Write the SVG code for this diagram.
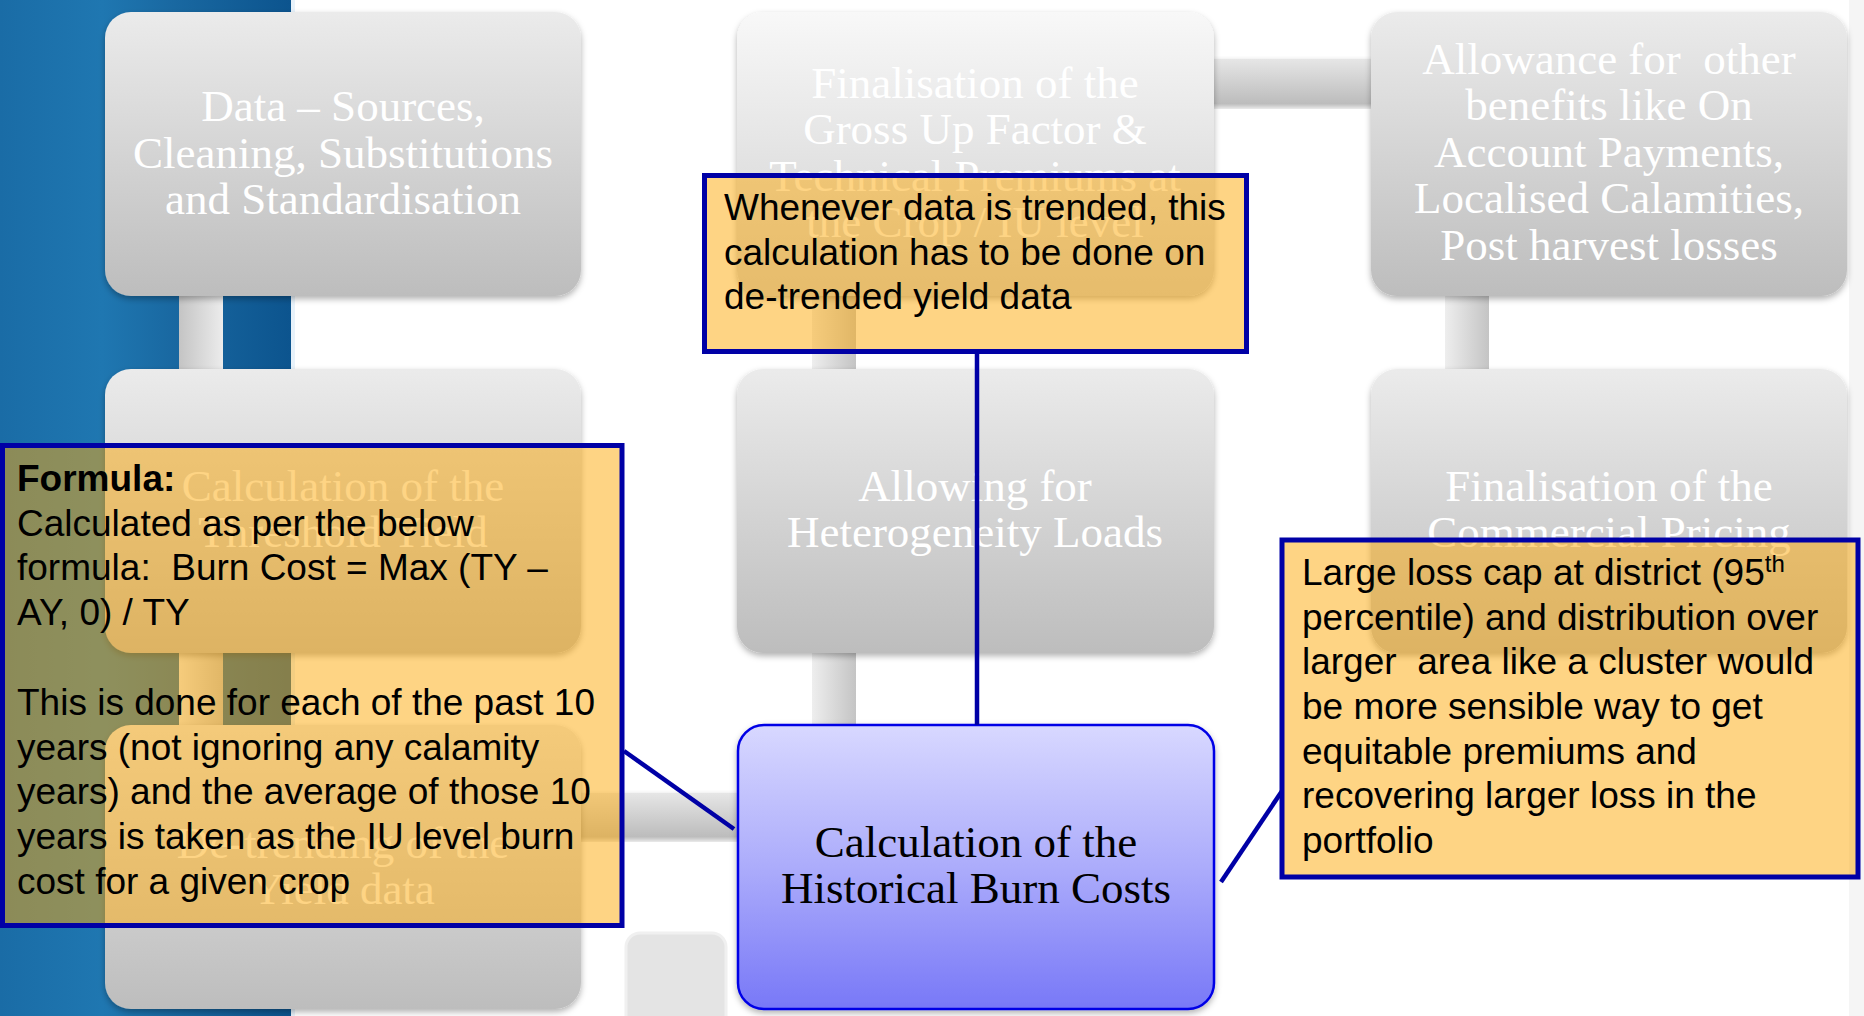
<svg xmlns="http://www.w3.org/2000/svg" width="1864" height="1016" viewBox="0 0 1864 1016">
  <defs>
    <linearGradient id="bg" x1="0" y1="0" x2="1" y2="0">
      <stop offset="0" stop-color="#1a6ca6"/>
      <stop offset="0.35" stop-color="#1f77b1"/>
      <stop offset="0.6" stop-color="#1968a1"/>
      <stop offset="1" stop-color="#0c548e"/>
    </linearGradient>
    <linearGradient id="boxFill" x1="0" y1="0" x2="0" y2="1">
      <stop offset="0" stop-color="#ebebeb"/>
      <stop offset="1" stop-color="#bdbdbd"/>
    </linearGradient>
    <linearGradient id="boxFillLight" x1="0" y1="0" x2="0" y2="1">
      <stop offset="0" stop-color="#f8f8f8"/>
      <stop offset="1" stop-color="#cfcfcf"/>
    </linearGradient>
    <linearGradient id="activeFill" x1="0" y1="0" x2="0" y2="1">
      <stop offset="0" stop-color="#d8d8ff"/>
      <stop offset="0.5" stop-color="#acacfb"/>
      <stop offset="1" stop-color="#7878f7"/>
    </linearGradient>
    <linearGradient id="barV" x1="0" y1="0" x2="1" y2="0">
      <stop offset="0" stop-color="#eeeeee"/>
      <stop offset="1" stop-color="#c4c4c4"/>
    </linearGradient>
    <linearGradient id="barVrev" x1="0" y1="0" x2="1" y2="0">
      <stop offset="0" stop-color="#c4c4c4"/>
      <stop offset="1" stop-color="#ececec"/>
    </linearGradient>
    <linearGradient id="barH" x1="0" y1="0" x2="0" y2="1">
      <stop offset="0" stop-color="#e6e6e6"/>
      <stop offset="1" stop-color="#bcbcbc"/>
    </linearGradient>
    <filter id="shadow" x="-5%" y="-5%" width="110%" height="115%">
      <feDropShadow dx="0" dy="3" stdDeviation="3" flood-color="#000" flood-opacity="0.3"/>
    </filter>
  </defs>
  <style>
    .box { fill: url(#boxFill); filter: url(#shadow); }
    .box-light { fill: url(#boxFillLight); filter: url(#shadow); }
    .active { fill: url(#activeFill); stroke: #0000e6; stroke-width: 2.5; filter: url(#shadow); }
    .label { font-family: "Liberation Serif", "Times New Roman", serif; font-size: 45px; fill: #ffffff; text-anchor: middle; }
    .label-dark { font-family: "Liberation Serif", "Times New Roman", serif; font-size: 45px; fill: #000000; text-anchor: middle; }
    .note { fill: rgb(253,170,9); fill-opacity: 0.5; stroke: #0000a6; stroke-width: 5; }
    .note-text { font-family: "Liberation Sans", Arial, sans-serif; font-size: 37px; fill: #000000; }
    .lead { stroke: #0000a6; stroke-width: 4.5; fill: none; }
  </style>

  <!-- page backdrop -->
  <rect x="0" y="0" width="1864" height="1016" fill="#ffffff"/>
  <rect x="0" y="0" width="291" height="1016" fill="url(#bg)"/>
  <rect x="291" y="0" width="4" height="1016" fill="#e8f2fa"/>
  <rect x="1849" y="0" width="15" height="1016" fill="#f5f5f5"/>

  <!-- process bars linking the steps -->
  <g id="connectors">
    <rect x="179" y="290" width="44" height="85" fill="url(#barVrev)"/>
    <rect x="179" y="650" width="44" height="80" fill="url(#barV)"/>
    <rect x="575" y="793" width="167" height="44" fill="url(#barH)" filter="url(#shadow)"/>
    <rect x="812" y="650" width="44" height="80" fill="url(#barV)"/>
    <rect x="812" y="290" width="44" height="85" fill="url(#barV)"/>
    <rect x="1210" y="59" width="166" height="45" fill="url(#barH)" filter="url(#shadow)"/>
    <rect x="1445" y="290" width="44" height="85" fill="url(#barV)"/>
  </g>

  <!-- step boxes -->
  <g id="node-data">
    <rect class="box" x="105" y="12" width="476" height="284" rx="26"/>
    <text class="label" x="343" y="121">Data – Sources,</text>
    <text class="label" x="343" y="168">Cleaning, Substitutions</text>
    <text class="label" x="343" y="214">and Standardisation</text>
  </g>
  <g id="node-grossup">
    <rect class="box-light" x="737" y="12" width="477" height="284" rx="26"/>
    <text class="label" x="975" y="98">Finalisation of the</text>
    <text class="label" x="975" y="144">Gross Up Factor &amp;</text>
    <text class="label" x="975" y="191">Technical Premiums at</text>
    <text class="label" x="975" y="237">the Crop / IU level</text>
  </g>
  <g id="node-allowance">
    <rect class="box" x="1371" y="12" width="476" height="284" rx="26"/>
    <text class="label" x="1609" y="74" xml:space="preserve">Allowance for  other</text>
    <text class="label" x="1609" y="120">benefits like On</text>
    <text class="label" x="1609" y="167">Account Payments,</text>
    <text class="label" x="1609" y="213">Localised Calamities,</text>
    <text class="label" x="1609" y="260">Post harvest losses</text>
  </g>
  <g id="node-threshold">
    <rect class="box" x="105" y="369" width="476" height="284" rx="26"/>
    <text class="label" x="343" y="501">Calculation of the</text>
    <text class="label" x="343" y="547">Threshold Yield</text>
  </g>
  <g id="node-heterogeneity">
    <rect class="box" x="737" y="369" width="477" height="284" rx="26"/>
    <text class="label" x="975" y="501">Allowing for</text>
    <text class="label" x="975" y="547">Heterogeneity Loads</text>
  </g>
  <g id="node-commercial">
    <rect class="box" x="1371" y="369" width="476" height="284" rx="26"/>
    <text class="label" x="1609" y="501">Finalisation of the</text>
    <text class="label" x="1609" y="547">Commercial Pricing</text>
  </g>
  <g id="node-detrending">
    <rect class="box" x="105" y="725" width="476" height="284" rx="26"/>
    <text class="label" x="343" y="858">De-trending of the</text>
    <text class="label" x="343" y="904">Yield data</text>
  </g>
  <g id="node-burncost">
    <rect class="active" x="738" y="725" width="476" height="284" rx="26"/>
    <text class="label-dark" x="976" y="857">Calculation of the</text>
    <text class="label-dark" x="976" y="903">Historical Burn Costs</text>
  </g>
  <g id="node-stub">
    <rect x="626" y="933" width="100" height="100" rx="14" fill="#e4e4e4" stroke="#f0f0f0" stroke-width="3"/>
  </g>

  <!-- annotation leaders -->
  <g id="annotation-leaders">
    <line class="lead" x1="977" y1="352" x2="977" y2="725"/>
    <line class="lead" x1="624" y1="751" x2="734" y2="829"/>
    <line class="lead" x1="1282" y1="791" x2="1221" y2="882"/>
  </g>

  <!-- annotations -->
  <g id="note-detrended">
    <rect class="note" x="704.5" y="175.5" width="542" height="176"/>
    <text class="note-text" x="724" y="220">Whenever data is trended, this</text>
    <text class="note-text" x="724" y="265">calculation has to be done on</text>
    <text class="note-text" x="724" y="309">de-trended yield data</text>
  </g>
  <g id="note-formula">
    <rect class="note" x="2.5" y="445.5" width="619.5" height="480"/>
    <text class="note-text" x="17" y="491" font-weight="bold">Formula:</text>
    <text class="note-text" x="17" y="536">Calculated as per the below</text>
    <text class="note-text" x="17" y="580" xml:space="preserve">formula:  Burn Cost = Max (TY –</text>
    <text class="note-text" x="17" y="625">AY, 0) / TY</text>
    <text class="note-text" x="17" y="715">This is done for each of the past 10</text>
    <text class="note-text" x="17" y="760">years (not ignoring any calamity</text>
    <text class="note-text" x="17" y="804">years) and the average of those 10</text>
    <text class="note-text" x="17" y="849">years is taken as the IU level burn</text>
    <text class="note-text" x="17" y="894">cost for a given crop</text>
  </g>
  <g id="note-largeloss">
    <rect class="note" x="1282" y="540" width="576" height="337"/>
    <text class="note-text" x="1302" y="585">Large loss cap at district (95<tspan font-size="24" dy="-13">th</tspan></text>
    <text class="note-text" x="1302" y="630">percentile) and distribution over</text>
    <text class="note-text" x="1302" y="674" xml:space="preserve">larger  area like a cluster would</text>
    <text class="note-text" x="1302" y="719">be more sensible way to get</text>
    <text class="note-text" x="1302" y="764">equitable premiums and</text>
    <text class="note-text" x="1302" y="808">recovering larger loss in the</text>
    <text class="note-text" x="1302" y="853">portfolio</text>
  </g>
</svg>
